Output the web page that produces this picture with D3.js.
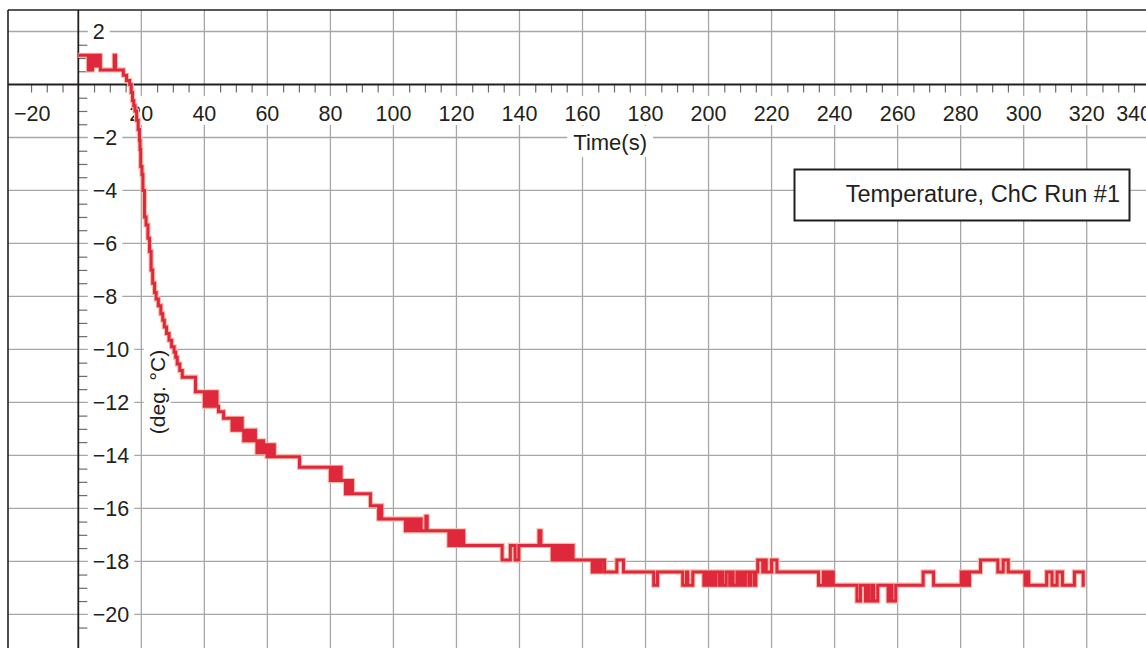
<!DOCTYPE html>
<html>
<head>
<meta charset="utf-8">
<script src="https://cdnjs.cloudflare.com/ajax/libs/d3/7.8.5/d3.min.js"></script>
<style>
  html, body { margin: 0; padding: 0; background: #fff; }
  svg { display: block; }
  text { font-family: "Liberation Sans", Arial, Helvetica, sans-serif; fill: #231f20; }
</style>
</head>
<body>
<div id="chart"></div>
<script>
// Temperature, ChC Run #1  (time in s, temperature in deg C)
var timeS = [
  0, 3.2, 3.6, 4.0, 4.5, 5.0, 5.5, 6.0, 6.5, 7.0, 11.4, 11.8, 14.3, 15.3, 16.3, 16.8,
  17.2, 17.6, 18.0, 18.5, 19.0, 19.4, 19.6, 19.8, 20.2, 20.5, 21.0, 21.5, 22.1, 22.6,
  23.1, 23.6, 24.2, 24.7, 25.4, 26.2, 26.8, 27.3, 28.0, 28.8, 29.6, 30.4, 30.9, 31.4,
  32.2, 33.0,
  37.2, 40.0, 40.5, 41.0, 41.5, 42.0, 42.5, 43.0, 43.6, 44.0, 44.5, 46.1, 48.8, 49.3,
  49.8, 50.3, 50.8, 51.3, 52.0, 52.5, 53.0, 53.5, 54.2, 54.8, 55.5, 56.2, 56.7, 57.2,
  57.7, 58.3, 58.8, 59.4, 59.9, 60.4, 61.0, 61.6, 62.2, 70.2,
  80.0, 80.5, 81.0, 81.6, 82.2, 82.8, 83.4, 84.0, 84.8, 85.3, 85.8, 86.4, 87.0, 92.7,
  95.3, 95.8, 96.3, 103.8, 104.3, 104.9, 105.5, 106.1, 106.8, 107.4, 108.2, 108.8,
  110.3, 110.7, 117.6, 118.1, 118.6, 119.2, 119.8, 120.4, 121.0, 121.6, 122.3,
  134.5, 137.1, 138.6, 139.8, 146.2, 146.8, 150.4, 151.0, 151.6, 152.3, 152.9, 153.6,
  154.4, 155.0, 155.7, 156.4, 157.0, 157.7, 163.1, 163.6, 164.2, 165.0, 165.4, 166.0,
  167.0, 170.9, 173.0,
  182.6, 183.8, 191.8, 193.0, 193.4, 195.0, 198.5, 199.0, 199.6, 200.1, 200.6, 201.2,
  201.6, 202.3, 203.4, 204.0, 204.5, 205.6, 206.7, 207.4, 207.8, 209.0, 209.5, 210.2,
  210.8, 211.7, 212.8, 213.4, 214.5, 215.0, 215.6, 217.2, 217.8, 218.3, 220.0, 221.7,
  234.9, 236.4, 237.0, 237.6, 238.3, 239.0, 239.6, 247.1, 248.2, 249.8, 250.6, 251.0,
  252.0, 252.4, 253.7, 257.0, 257.6, 258.2, 259.4, 268.1, 271.4, 280.2, 280.8, 281.5,
  282.2, 282.8, 286.3, 291.8, 293.5, 295.1, 300.4, 301.0, 301.6, 307.3, 309.0, 310.6,
  312.3, 316.1, 318.9, 319.4
];
var tempC = [
  1.1, 0.55, 1.1, 0.55, 1.1, 0.7, 1.1, 0.7, 1.1, 0.55, 1.1, 0.55, 0.35, 0.15, 0.0, -0.3,
  -0.6, -0.8, -1.0, -1.35, -1.7, -2.1, -2.45, -3.1, -3.4, -4.0, -5.0, -5.3, -5.8, -6.3,
  -7.0, -7.5, -7.85, -8.1, -8.35, -8.65, -8.9, -9.15, -9.4, -9.65, -9.9, -10.1, -10.3, -10.55,
  -10.8, -11.05,
  -11.6, -12.15, -11.6, -12.15, -11.6, -12.15, -11.6, -12.15, -11.6, -12.15, -12.35, -12.6, -13.05, -12.6,
  -13.05, -12.6, -13.05, -12.6, -13.05, -13.45, -13.05, -13.45, -13.05, -13.45, -13.05, -13.45, -13.9, -13.45,
  -13.9, -13.45, -13.9, -13.6, -14.05, -13.6, -14.05, -13.6, -14.05, -14.45,
  -14.95, -14.45, -14.95, -14.45, -14.95, -14.45, -14.95, -14.95, -15.45, -14.95, -15.45, -14.95, -15.45, -15.9,
  -16.4, -15.9, -16.4, -16.85, -16.4, -16.85, -16.4, -16.85, -16.4, -16.85, -16.4, -16.85,
  -16.3, -16.85, -17.4, -16.85, -17.4, -16.85, -17.4, -16.85, -17.4, -16.85, -17.4,
  -17.95, -17.4, -17.95, -17.4, -16.85, -17.4, -17.95, -17.4, -17.95, -17.4, -17.95, -17.4,
  -17.95, -17.4, -17.95, -17.4, -17.95, -17.95, -18.4, -17.95, -18.4, -17.95, -18.4, -17.95,
  -18.4, -17.95, -18.4,
  -18.9, -18.4, -18.9, -18.4, -18.9, -18.4, -18.9, -18.4, -18.9, -18.4, -18.9, -18.4,
  -18.9, -18.4, -18.9, -18.4, -18.9, -18.4, -18.9, -18.4, -18.9, -18.4, -18.9, -18.4,
  -18.9, -18.4, -18.9, -18.4, -18.9, -18.4, -17.95, -18.4, -17.95, -18.4, -17.95, -18.4,
  -18.9, -18.4, -18.9, -18.4, -18.9, -18.4, -18.9, -19.5, -18.9, -19.5, -18.9, -19.5,
  -18.9, -19.5, -18.9, -19.5, -18.9, -19.5, -18.9, -18.4, -18.9, -18.4, -18.9, -18.4,
  -18.9, -18.4, -17.95, -18.4, -17.95, -18.4, -18.9, -18.4, -18.9, -18.4, -18.9, -18.4,
  -18.9, -18.4, -18.9, -18.9
];
var xTickLabels = [-20, 20, 40, 60, 80, 100, 120, 140, 160, 180, 200, 220, 240, 260, 280, 300, 320, 340];
var yTickLabels = [2, -2, -4, -6, -8, -10, -12, -14, -16, -18, -20];
var seriesName = 'Temperature, ChC Run #1';
var xTitle = 'Time(s)';
var yTitle = '(deg. \u00B0C)';

window.onload = function () {
    'use strict';
    var W = 1146, H = 648;
    var FRAME_LEFT = 8, FRAME_TOP = 10, FRAME_RIGHT = 1158;
    var INK = '#231f20';
    var TICK_FONT = 21.5;

    var svg = d3.select('#chart').append('svg').attr('width', W).attr('height', H);
    svg.append('rect').attr('width', W).attr('height', H).attr('fill', '#fff');

    var x = d3.scaleLinear().domain([0, 320]).range([78.3, 1086.7]);
    var y = d3.scaleLinear().domain([0, -20]).range([84.5, 614.3]);
    var X0 = x(0), Y0 = y(0);
    var fmt = d3.format('d');

    // grid
    var grid = svg.append('g').attr('stroke', '#a7a7a7').attr('stroke-width', 1.3);
    grid.selectAll('.vg')
        .data(xTickLabels.filter(function (v) { return v > 0; }))
        .enter().append('line')
        .attr('x1', x).attr('x2', x)
        .attr('y1', FRAME_TOP).attr('y2', H);
    grid.selectAll('.hg')
        .data(yTickLabels)
        .enter().append('line')
        .attr('x1', FRAME_LEFT).attr('x2', W)
        .attr('y1', y).attr('y2', y);

    function boxedText(parent, str, px, py, anchor, size) {
        var g = parent.append('g');
        var rect = g.append('rect').attr('fill', '#fff');
        var txt = g.append('text')
            .attr('x', px).attr('y', py)
            .attr('text-anchor', anchor)
            .attr('font-size', size)
            .text(str);
        return {g: g, rect: rect, txt: txt};
    }
    function fitBox(o, padX, padTop, padBot) {
        var b = o.txt.node().getBBox();
        o.rect.attr('x', b.x - padX).attr('y', b.y - padTop)
            .attr('width', b.width + 2 * padX).attr('height', b.height + padTop + padBot);
    }

    // x tick labels, kept inside the frame
    var labels = svg.append('g');
    xTickLabels.forEach(function (v) {
        var o = boxedText(labels, fmt(v), x(v), Y0 + 36.5, 'middle', TICK_FONT);
        var w = o.txt.node().getComputedTextLength();
        var cx = Math.min(Math.max(x(v), FRAME_LEFT + w / 2 + 6), FRAME_RIGHT - w / 2 - 6);
        o.txt.attr('x', cx);
        fitBox(o, 5, 6, -1);
    });

    // y tick labels
    yTickLabels.forEach(function (v) {
        var o = boxedText(labels, fmt(v), X0 + 14.5, y(v) + 7.8, 'start', TICK_FONT);
        fitBox(o, 5, -2, -3);
    });

    // axis titles
    var xt = boxedText(labels, xTitle, (X0 + W) / 2 - 2, Y0 + 65.5, 'middle', 22);
    fitBox(xt, 6, 4, 2);
    var ytg = labels.append('g').attr('transform', 'translate(' + (X0 + 79) + ',392) rotate(-90)');
    var yt = boxedText(ytg, yTitle, 0, 7.5, 'middle', 21);
    fitBox(yt, 6, 2, 2);

    // minor ticks
    var xMinor = d3.range(-15, 340, 5).filter(function (v) { return v % 20 !== 0; });
    var yMinor = d3.range(1.5, -21, -0.5).filter(function (v) { return v % 2 !== 0; });
    var ax = svg.append('g').attr('transform', 'translate(0,' + Y0 + ')')
        .call(d3.axisBottom(x).tickValues(xMinor).tickSize(8).tickSizeOuter(0).tickFormat(''));
    ax.select('.domain').remove();
    ax.selectAll('line').attr('stroke', '#6d6d6d').attr('stroke-width', 1.2);
    var ay = svg.append('g').attr('transform', 'translate(' + X0 + ',0)')
        .call(d3.axisRight(y).tickValues(yMinor).tickSize(9).tickSizeOuter(0).tickFormat(''));
    ay.select('.domain').remove();
    ay.selectAll('line').attr('stroke', '#6d6d6d').attr('stroke-width', 1.2);

    // frame and axes
    var axes = svg.append('g').attr('stroke', INK);
    axes.append('line').attr('x1', FRAME_LEFT).attr('x2', W).attr('y1', FRAME_TOP).attr('y2', FRAME_TOP).attr('stroke-width', 1.6);
    axes.append('line').attr('x1', FRAME_LEFT).attr('x2', FRAME_LEFT).attr('y1', FRAME_TOP).attr('y2', H).attr('stroke-width', 1.6);
    axes.append('line').attr('x1', FRAME_LEFT).attr('x2', W).attr('y1', Y0).attr('y2', Y0).attr('stroke-width', 1.8);
    axes.append('line').attr('x1', X0).attr('x2', X0).attr('y1', FRAME_TOP).attr('y2', H).attr('stroke-width', 1.8);

    // data trace
    var pts = timeS.map(function (t, i) { return [t, tempC[i]]; });
    var line = d3.line()
        .x(function (d) { return x(d[0]); })
        .y(function (d) { return y(d[1]); })
        .curve(d3.curveStepAfter);
    svg.append('path').datum(pts).attr('d', line)
        .attr('fill', 'none').attr('stroke', '#f6bcab').attr('stroke-width', 5.2);
    svg.append('path').datum(pts).attr('d', line)
        .attr('fill', 'none').attr('stroke', '#e0283c').attr('stroke-width', 3);

    // legend
    var leg = svg.append('g');
    leg.append('rect')
        .attr('x', 794.5).attr('y', 169.5).attr('width', 335).attr('height', 51)
        .attr('fill', '#fff').attr('stroke', INK).attr('stroke-width', 2);
    leg.append('text')
        .attr('x', 1120).attr('y', 202)
        .attr('text-anchor', 'end')
        .attr('font-size', 23.5)
        .text(seriesName);
};
</script>
</body>
</html>
